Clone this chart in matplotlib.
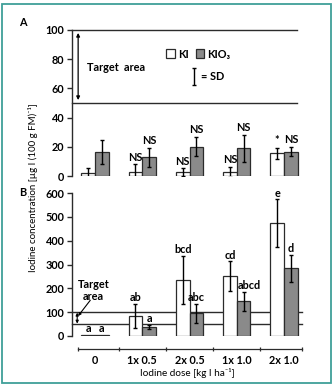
import matplotlib
matplotlib.use("Agg")
import matplotlib.pyplot as plt
from matplotlib.patches import Patch, Rectangle
import numpy as np

plt.rcParams['font.family'] = ['Lato', 'DejaVu Sans']

doses = ["0", "1x 0.5", "2x 0.5", "1x 1.0", "2x 1.0"]
series = ["KI", "KIO\u2083"]

# Panel A
a_ki = [1.8, 2.5, 2.5, 3.0, 15.5]
a_ki_sd = [3.5, 5.5, 2.8, 3.4, 4.0]
a_kio3 = [16.7, 12.8, 20.2, 19.0, 16.7]
a_kio3_sd = [8.2, 6.5, 6.5, 9.3, 3.3]
a_ki_lab = ["", "NS", "NS", "NS", "*"]
a_kio3_lab = ["", "NS", "NS", "NS", "NS"]

# Panel B
b_ki = [3, 84, 236, 250, 473]
b_ki_sd = [0, 50, 100, 63, 100]
b_kio3 = [3, 39, 95, 146, 284]
b_kio3_sd = [0, 9, 40, 40, 56]
b_ki_lab = ["a", "ab", "bcd", "cd", "e"]
b_kio3_lab = ["a", "a", "abc", "abcd", "d"]

target = [50, 100]

W, H = 333, 386
fig = plt.figure(figsize=(W / 100, H / 100), dpi=100)

def px_axes(l, r, t, b):
    return fig.add_axes([l / W, 1 - b / H, (r - l) / W, (b - t) / H])

x = np.arange(len(doses))
bw = 0.29
xlim = (-0.487, 4.38)
fs = 7.8
white = "white"
grey = "#8a8a8a"
edge = "#2b2b2b"

axA = px_axes(72, 302, 30, 176)
axB = px_axes(72, 302, 193, 336)

def style(ax, ymax, step):
    ax.set_xlim(*xlim)
    ax.set_ylim(0, ymax)
    for s in ["top", "right"]:
        ax.spines[s].set_visible(False)
    ax.spines["left"].set_linewidth(1.0)
    ax.spines["left"].set_color(edge)
    ax.set_yticks(np.arange(0, ymax + 1, step))
    ax.tick_params(axis="y", direction="out", length=3.5, width=1, color=edge,
                   labelsize=fs, pad=2)
    for t in ax.get_yticklabels():
        t.set_fontweight("bold")

def draw(ax, ki, ki_sd, kio3, kio3_sd, ki_lab, kio3_lab, off):
    ax.bar(x - bw / 2, ki, bw, color=white, edgecolor=edge, linewidth=0.9, zorder=3)
    ax.bar(x + bw / 2, kio3, bw, color=grey, edgecolor=edge, linewidth=0.9, zorder=3)
    for xs, v, sd in [(x - bw / 2, ki, ki_sd), (x + bw / 2, kio3, kio3_sd)]:
        m = np.array(sd) > 0
        ax.errorbar(xs[m], np.array(v)[m], yerr=np.array(sd)[m], fmt="none",
                    ecolor="black", elinewidth=1.0, capsize=1.2, capthick=1.0, zorder=4)
    for xs, v, sd, labs in [(x - bw / 2, ki, ki_sd, ki_lab), (x + bw / 2, kio3, kio3_sd, kio3_lab)]:
        for xi, vi, si, lb in zip(xs, v, sd, labs):
            if lb:
                dx = 4 if len(lb) > 3 else 0
                ax.annotate(lb, (xi, vi + si), xytext=(dx, off), textcoords="offset points",
                            ha="center", va="bottom", fontsize=fs, fontweight="bold", zorder=5)

# ---------- Panel A
style(axA, 100, 20)
axA.spines["bottom"].set_visible(False)
axA.set_xticks([])
for tv in target:
    axA.plot([xlim[0], 4.28], [tv, tv], color=edge, lw=1.0, clip_on=False, zorder=2)
draw(axA, a_ki, a_ki_sd, a_kio3, a_kio3_sd, a_ki_lab, a_kio3_lab, 1.2)
axA.annotate("", xy=(xlim[0] + 0.13, 98), xytext=(xlim[0] + 0.13, 52),
             arrowprops=dict(arrowstyle="<|-|>", color="black", lw=0.9,
                             mutation_scale=5, shrinkA=0, shrinkB=0))
axA.text(0.065, 74.5, "Target  area", transform=axA.get_yaxis_transform(),
         fontsize=fs, fontweight="bold", va="center", ha="left")
leg = axA.legend(handles=[Patch(facecolor=white, edgecolor=edge, linewidth=0.9),
                          Patch(facecolor=grey, edgecolor=edge, linewidth=0.9)],
                 labels=series, ncol=2, frameon=False, loc="center",
                 bbox_to_anchor=(0.55, 0.835), handlelength=0.8, handleheight=0.9,
                 handletextpad=0.3, columnspacing=0.6, borderpad=0,
                 prop=dict(size=fs, weight="bold"))
# SD symbol
axA.errorbar([0.530], [0.6815], yerr=[0.058], fmt="none", ecolor="black",
             elinewidth=1.0, capsize=1.2, capthick=1.0, transform=axA.transAxes)
axA.text(0.56, 0.6815, "= SD", transform=axA.transAxes, fontsize=fs,
         fontweight="bold", va="center", ha="left")

# ---------- Panel B
style(axB, 600, 100)
for tv in target:
    axB.plot([xlim[0], xlim[1]], [tv, tv], color=edge, lw=1.0, clip_on=False, zorder=2)
draw(axB, b_ki, b_ki_sd, b_kio3, b_kio3_sd, b_ki_lab, b_kio3_lab, 0.6)
axB.spines["bottom"].set_position(("outward", 9))
axB.spines["bottom"].set_bounds(-0.35, 4.38)
axB.spines["bottom"].set_linewidth(0.9)
axB.spines["bottom"].set_color(edge)
axB.set_xticks(x)
axB.set_xticklabels(doses, fontsize=fs, fontweight="bold")
axB.set_xticks([-0.35, 0.5, 1.5, 2.5, 3.5, 4.38], minor=True)
axB.tick_params(axis="x", which="major", length=0, pad=5)
axB.tick_params(axis="x", which="minor", direction="inout", length=3, width=0.9, color=edge)
axB.annotate("", xy=(xlim[0] + 0.11, 98), xytext=(xlim[0] + 0.11, 52),
             arrowprops=dict(arrowstyle="<|-|>", color="black", lw=0.8,
                             mutation_scale=4, shrinkA=0, shrinkB=0))
axB.annotate("", xy=(xlim[0] + 0.13, 84), xytext=(-0.1, 150),
             arrowprops=dict(arrowstyle="-|>", color="black", lw=0.8,
                             mutation_scale=4, shrinkA=0, shrinkB=0))
axB.text(-0.03, 190, "Target\narea", fontsize=fs, fontweight="bold",
         ha="center", va="center", linespacing=1.05)
axB.set_xlabel("Iodine dose [kg I ha\u207b\u00b9]", fontsize=7.2, labelpad=1)

# Shared y label
fig.text(33 / W, 1 - 188 / H, "Iodine concentration [\u00b5g I (100 g FM)\u207b\u00b9]",
         rotation=90, ha="center", va="center", fontsize=7)
fig.text(23 / W, 1 - 22 / H, "A", fontsize=fs, fontweight="bold", ha="center", va="center")
fig.text(23 / W, 1 - 193 / H, "B", fontsize=fs, fontweight="bold", ha="center", va="center")

# teal frame
fig.patches.append(Rectangle((1.5 / W, 3 / H), 329.5 / W, 379.5 / H, transform=fig.transFigure,
                             fill=False, edgecolor="#3f9f98", linewidth=1.3))

fig.savefig("out.png", dpi=100)
